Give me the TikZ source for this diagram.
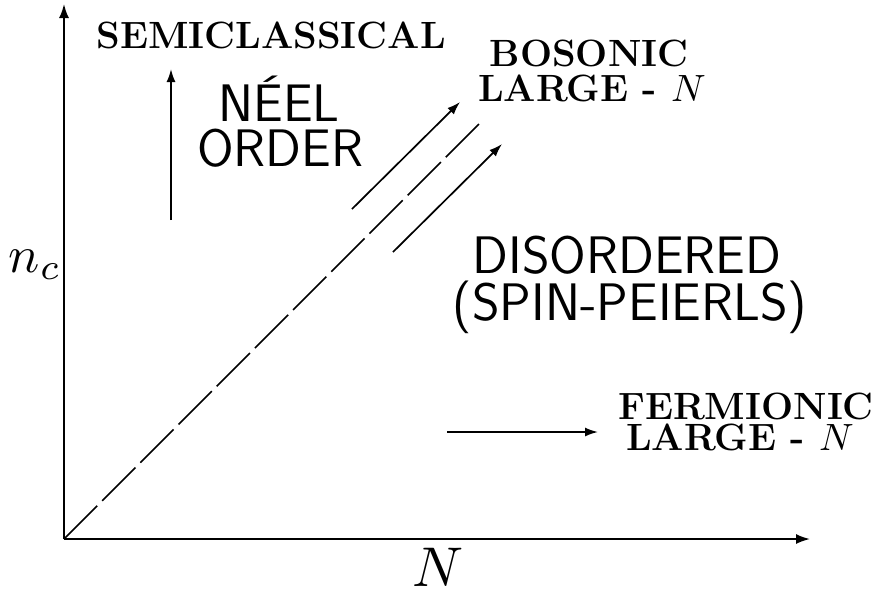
\documentclass[tikz,border=0pt]{standalone}
\usepackage{graphicx}
\usepackage{fontspec}
\usetikzlibrary{arrows.meta}
\tikzset{
  axis/.style={line width=0.9pt,-{Latex[length=7pt,width=5pt]}},
  flow/.style={line width=0.85pt,-{Latex[length=6.5pt,width=4.5pt]}},
  bnd/.style={line width=0.85pt,dash pattern=on 23.5pt off 3.5pt},
  bold/.style={inner sep=0pt,anchor=base,font=\fontsize{19}{20}\selectfont\bfseries},
  sans/.style={inner sep=0pt,anchor=base,font=\fontsize{26.4}{28}\selectfont\sffamily},
  mathl/.style={inner sep=0pt,anchor=base,font=\fontsize{10}{12}\selectfont}
}
\newcommand{\midN}{\scalebox{1.9}{\fontsize{10}{12}\selectfont$N$}}
\begin{document}
\begin{tikzpicture}[x=0.5pt,y=-0.5pt]
\useasboundingbox (0,0) rectangle (877,591);
% axes
\coordinate (O) at (64,539);
\coordinate (ytop) at (64,4);
\coordinate (xend) at (810,539);
\draw[axis] (O) -- (ytop);
\draw[axis] (O) -- (xend);
% boundary
\coordinate (btop) at (479,124);
\draw[bnd] (O) -- (btop);
% arrows
\coordinate (a1s) at (352,209); \coordinate (a1e) at (460,102);
\coordinate (a2s) at (393,252); \coordinate (a2e) at (502,144);
\draw[flow] (a1s) -- (a1e);
\draw[flow] (a2s) -- (a2e);
\coordinate (ss) at (171,220); \coordinate (se) at (171,69);
\draw[flow] (ss) -- (se);
\coordinate (fs) at (447,432); \coordinate (fe) at (598,432);
\draw[flow] (fs) -- (fe);
% labels
\node[bold] (semi) at (271,48) {SEMICLASSICAL};
\node[sans] (neel) at (279,121) {NÉEL};
\node[sans] (order) at (280,166) {ORDER};
\node[bold] (bos1) at (589,66) {BOSONIC};
\node[bold] (bos2) at (592,101) {LARGE - \midN};
\node[sans] (dis1) at (627,273) {DISORDERED};
\node[sans] (dis2) at (630,320) {(SPIN-PEIERLS)};
\node[bold] (fer1) at (746,419) {FERMIONIC};
\node[bold] (fer2) at (740,450) {LARGE - \midN};
\node[mathl] (nc) at (35,272) {\scalebox{2.6}{$n_c$}};
\node[mathl] (NN) at (438,586) {\scalebox{2.8}{$N$}};
\end{tikzpicture}
\end{document}
